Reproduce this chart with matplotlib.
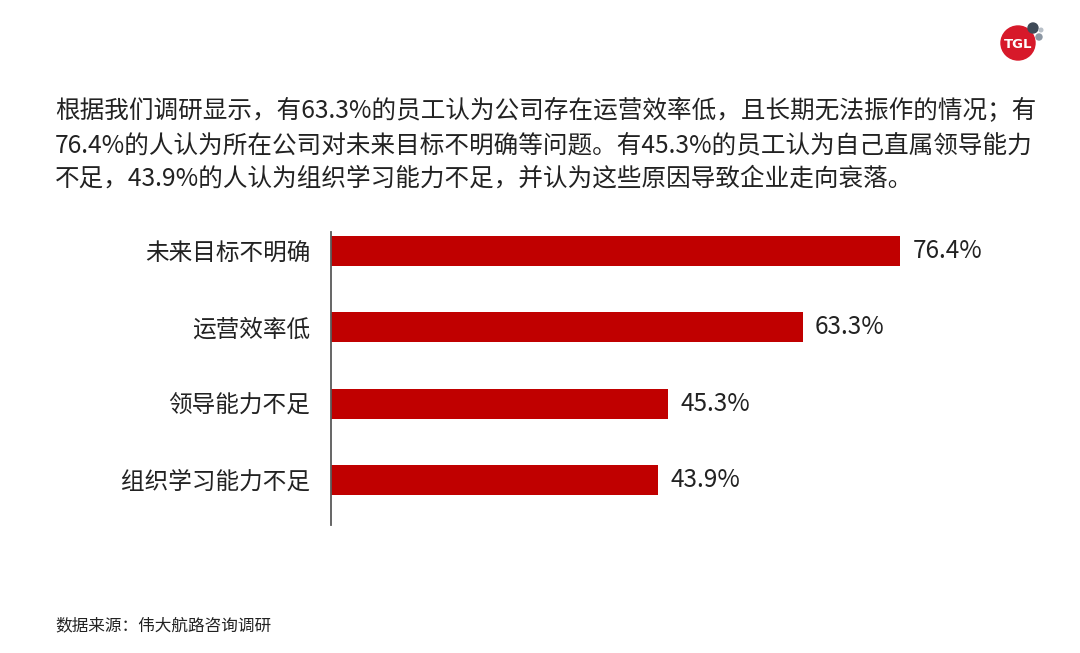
"""Horizontal bar chart: reasons employees give for company decline."""

import matplotlib.pyplot as plt
from matplotlib.patches import Circle

plt.rcParams["font.family"] = ["Noto Sans CJK SC", "DejaVu Sans"]

categories = ["未来目标不明确", "运营效率低", "领导能力不足", "组织学习能力不足"]
values = [76.4, 63.3, 45.3, 43.9]

intro_lines = [
    "根据我们调研显示，有63.3%的员工认为公司存在运营效率低，且长期无法振作的情况；有",
    "76.4%的人认为所在公司对未来目标不明确等问题。有45.3%的员工认为自己直属领导能力",
    "不足，43.9%的人认为组织学习能力不足，并认为这些原因导致企业走向衰落。",
]
source_text = "数据来源：伟大航路咨询调研"

BAR_COLOR = "#C00000"
TEXT_COLOR = "#222222"

fig = plt.figure(figsize=(10.8, 6.53), dpi=100)
fig.patch.set_facecolor("white")

# intro paragraph
for i, line in enumerate(intro_lines):
    fig.text(55 / 1080, 1 - (111 + 34 * i) / 653, line, fontsize=17.7,
             color=TEXT_COLOR, va="center", ha="left")

ax = fig.add_axes([331 / 1080, 1 - 525 / 653, 669 / 1080, 293 / 653])
positions = list(range(len(categories)))
ax.barh(positions, values, height=0.39, color=BAR_COLOR)
ax.set_xlim(0, 89.8)
ax.set_ylim(3.59, -0.25)

ax.set_yticks(positions)
ax.set_yticklabels(categories, fontsize=17, color=TEXT_COLOR)
ax.tick_params(axis="y", length=0, pad=15)
ax.set_xticks([])

for spine in ("top", "right", "bottom"):
    ax.spines[spine].set_visible(False)
ax.spines["left"].set_color("#595959")
ax.spines["left"].set_linewidth(1.3)

for pos, val in zip(positions, values):
    ax.annotate(f"{val}%", xy=(val, pos), xytext=(9, 0),
                textcoords="offset points", va="center", ha="left",
                fontsize=17.5, color=TEXT_COLOR)

fig.text(55 / 1080, 1 - 626 / 653, source_text, fontsize=12,
         color=TEXT_COLOR, va="center", ha="left")

# small TGL logo, top right
logo = fig.add_axes([985 / 1080, 1 - 75 / 653, 70 / 1080, 60 / 653])
logo.set_xlim(0, 70)
logo.set_ylim(60, 0)
logo.set_aspect("equal")
logo.axis("off")
logo.add_patch(Circle((33, 28), 17, color="#D7192A"))
logo.add_patch(Circle((48, 13), 5, color="#3E4A57"))
logo.add_patch(Circle((54, 22), 3, color="#8C97A3"))
logo.add_patch(Circle((56, 15), 1.8, color="#B8C0C8"))
logo.text(33, 29, "TGL", color="white", fontsize=9.5, fontweight="bold",
          ha="center", va="center", family="DejaVu Sans")

fig.savefig("out.png", dpi=100)
